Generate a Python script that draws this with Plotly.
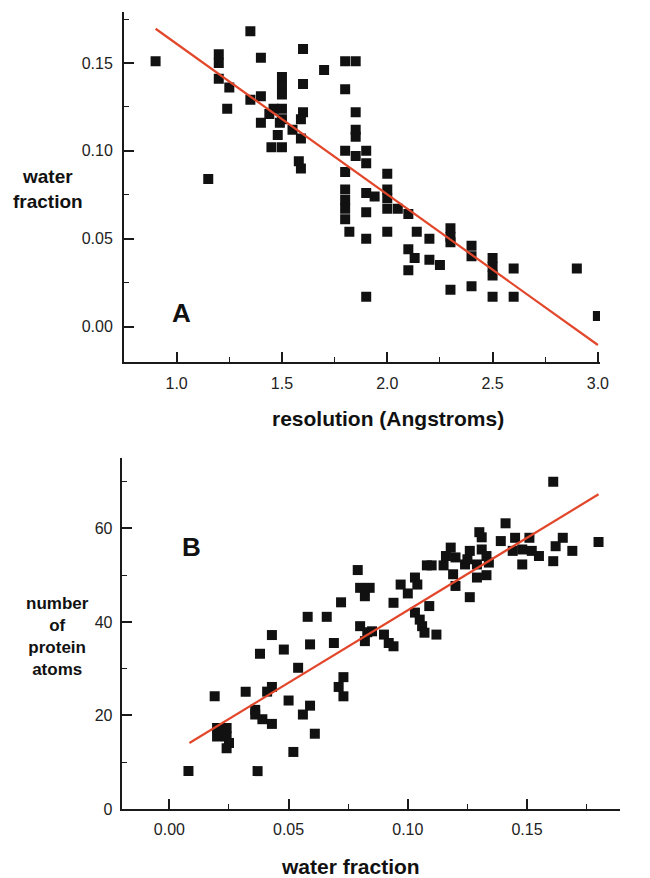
import plotly.graph_objects as go

W, H = 650, 878

# ---- Panel A data: resolution vs water fraction ----
resolution = [0.90, 1.35, 1.20, 1.20, 1.40, 1.60, 1.70, 1.80, 1.85, 1.20,
              1.25, 1.60, 1.80, 1.50, 1.50, 1.50, 1.40, 1.35, 1.24, 1.44,
              1.46, 1.50, 1.50, 1.49, 1.60, 1.59, 1.40, 1.55, 1.48, 1.59,
              1.45, 1.50, 1.85, 1.85, 1.85, 1.80, 1.85, 1.90, 1.90, 1.58,
              1.59, 1.80, 1.15, 1.80, 1.80, 1.80, 1.80, 1.82, 1.90, 1.94,
              1.90, 1.90, 1.90, 2.00, 2.00, 2.00, 2.00, 2.05, 2.00, 2.10,
              2.14, 2.20, 2.10, 2.13, 2.10, 2.20, 2.25, 2.30, 2.30, 2.30,
              2.30, 2.40, 2.40, 2.40, 2.50, 2.50, 2.50, 2.50, 2.60, 2.60,
              2.90, 3.00]
water_a = [0.151, 0.168, 0.155, 0.150, 0.153, 0.158, 0.146, 0.151, 0.151, 0.141,
           0.136, 0.138, 0.135, 0.142, 0.137, 0.132, 0.131, 0.129, 0.124, 0.121,
           0.124, 0.124, 0.118, 0.116, 0.122, 0.118, 0.116, 0.112, 0.109, 0.107,
           0.102, 0.102, 0.122, 0.112, 0.108, 0.100, 0.097, 0.100, 0.093, 0.094,
           0.090, 0.088, 0.084, 0.078, 0.072, 0.067, 0.061, 0.054, 0.076, 0.074,
           0.065, 0.050, 0.017, 0.087, 0.078, 0.073, 0.067, 0.067, 0.054, 0.064,
           0.054, 0.050, 0.044, 0.039, 0.032, 0.038, 0.035, 0.056, 0.051, 0.048,
           0.021, 0.046, 0.040, 0.023, 0.039, 0.034, 0.029, 0.017, 0.033, 0.017,
           0.033, 0.006]
fit_a_x = [0.90, 3.00]
fit_a_slope, fit_a_icpt = -0.0857, 0.2466

# ---- Panel B data: water fraction vs number of protein atoms ----
water_b = [0.161, 0.141, 0.130, 0.131, 0.131, 0.139, 0.145, 0.151, 0.148, 0.165,
           0.162, 0.169, 0.180, 0.152, 0.155, 0.161, 0.148, 0.144, 0.118, 0.116,
           0.120, 0.126, 0.125, 0.133, 0.134, 0.108, 0.110, 0.115, 0.124, 0.129,
           0.119, 0.120, 0.129, 0.133, 0.126, 0.079, 0.080, 0.084, 0.082, 0.072,
           0.097, 0.103, 0.104, 0.100, 0.094, 0.109, 0.103, 0.105, 0.106, 0.107,
           0.112, 0.080, 0.083, 0.085, 0.082, 0.090, 0.092, 0.094, 0.069, 0.058,
           0.066, 0.043, 0.048, 0.038, 0.059, 0.054, 0.019, 0.032, 0.041, 0.043,
           0.050, 0.073, 0.071, 0.073, 0.036, 0.036, 0.039, 0.043, 0.056, 0.059,
           0.061, 0.020, 0.020, 0.024, 0.024, 0.025, 0.024, 0.052, 0.008, 0.037]
atoms_b = [70.0, 61.1, 59.2, 58.1, 55.5, 57.3, 58.0, 58.0, 55.5, 58.0,
           56.2, 55.2, 57.1, 55.2, 54.1, 53.0, 52.3, 55.2, 55.9, 54.1,
           53.8, 55.2, 53.4, 54.1, 52.7, 52.1, 52.1, 52.1, 52.3, 52.3,
           50.2, 47.7, 49.5, 50.0, 45.3, 51.1, 47.3, 47.3, 45.5, 44.2,
           48.0, 49.5, 48.0, 46.1, 44.1, 43.4, 42.0, 40.5, 39.1, 37.7,
           37.3, 39.1, 37.8, 38.0, 35.9, 37.3, 35.5, 34.8, 35.5, 41.1,
           41.1, 37.2, 34.1, 33.2, 35.2, 30.2, 24.1, 25.1, 25.1, 26.1,
           23.2, 28.2, 26.1, 24.1, 21.2, 20.2, 19.2, 18.2, 20.2, 22.1,
           16.1, 17.3, 15.5, 17.3, 15.5, 14.1, 13.0, 12.2, 8.1, 8.1]
fit_b_x = [0.0084, 0.180]
fit_b_slope, fit_b_icpt = 310.0, 11.5

# tick labels
a_xticks = [1.0, 1.5, 2.0, 2.5, 3.0]
a_yticks = [0.00, 0.05, 0.10, 0.15]
b_xticks = [0.00, 0.05, 0.10, 0.15]
b_yticks = [0, 20, 40, 60]

MARK = "#111111"
RED = "#e2472b"
AX = "#1a1a1a"
FONT = "Liberation Sans, Arial, sans-serif"

fig = go.Figure()
fig.add_trace(go.Scatter(x=resolution, y=water_a, mode="markers",
                         marker=dict(symbol="square", size=10, color=MARK),
                         xaxis="x", yaxis="y", showlegend=False))
fig.add_trace(go.Scatter(x=fit_a_x, y=[fit_a_slope * v + fit_a_icpt for v in fit_a_x],
                         mode="lines", line=dict(color=RED, width=2.2),
                         xaxis="x", yaxis="y", showlegend=False))
fig.add_trace(go.Scatter(x=water_b, y=atoms_b, mode="markers",
                         marker=dict(symbol="square", size=10, color=MARK),
                         xaxis="x2", yaxis="y2", showlegend=False))
fig.add_trace(go.Scatter(x=fit_b_x, y=[fit_b_slope * v + fit_b_icpt for v in fit_b_x],
                         mode="lines", line=dict(color=RED, width=2.2),
                         xaxis="x2", yaxis="y2", showlegend=False))


def ax_common(minor_vals, **kw):
    d = dict(showline=True, linewidth=2, linecolor=AX, showgrid=False, zeroline=False,
             ticks="inside", ticklen=10, tickwidth=1.6, tickcolor=AX,
             tickfont=dict(family=FONT, size=16, color="#222222"),
             minor=dict(ticks="inside", ticklen=5, tickwidth=1.4, tickcolor=AX,
                        tickvals=minor_vals),
             mirror=False, automargin=False)
    d.update(kw)
    return d


fig.update_layout(
    width=W, height=H, autosize=False,
    margin=dict(l=0, r=0, t=0, b=0, pad=0, autoexpand=False),
    paper_bgcolor="white", plot_bgcolor="white",
    font=dict(family=FONT, color="#111111"),
    xaxis=ax_common([1.25, 1.75, 2.25, 2.75],
                    domain=[124 / W, 600 / W], range=[0.75, 3.01], anchor="y",
                    tickvals=a_xticks, ticktext=[f"{v:.1f}" for v in a_xticks],
                    ticklabelstandoff=6),
    yaxis=ax_common([0.025, 0.075, 0.125, 0.175],
                    domain=[1 - 361.7 / H, 1 - 12 / H], range=[-0.02, 0.179], anchor="x",
                    tickvals=a_yticks, ticktext=[f"{v:.2f}" for v in a_yticks],
                    ticklabelstandoff=6),
    xaxis2=ax_common([0.025, 0.075, 0.125, 0.175],
                     domain=[121.7 / W, 620 / W], range=[-0.02, 0.189], anchor="y2",
                     tickvals=b_xticks, ticktext=[f"{v:.2f}" for v in b_xticks],
                     ticklabelstandoff=5),
    yaxis2=ax_common([10, 30, 50, 70],
                     domain=[1 - 809 / H, 1 - 458.3 / H], range=[0, 75], anchor="x2",
                     tickvals=b_yticks, ticktext=[str(v) for v in b_yticks],
                     ticklabelstandoff=4),
)

ann = [
    dict(text="<b>A</b>", x=181 / W, y=1 - 313.3 / H, size=26),
    dict(text="<b>B</b>", x=191 / W, y=1 - 547.3 / H, size=26),
    dict(text="<b>water<br>fraction</b>", x=48 / W, y=1 - 189 / H, size=19),
    dict(text="<b>number<br>of<br>protein<br>atoms</b>", x=57 / W, y=1 - 636.5 / H, size=17),
    dict(text="<b>resolution (Angstroms)</b>", x=388.3 / W, y=1 - 418 / H, size=21),
    dict(text="<b>water fraction</b>", x=350 / W, y=1 - 866 / H, size=21),
]
for a in ann:
    fig.add_annotation(text=a["text"], x=a["x"], y=a["y"], xref="paper", yref="paper",
                       xanchor="center", yanchor="middle", showarrow=False, align="center",
                       font=dict(family=FONT, size=a["size"], color="#111111"))

fig.write_html("out.html",
               config={"displayModeBar": False},
               post_script="document.body.style.margin='0px';document.body.style.overflow='hidden';")
